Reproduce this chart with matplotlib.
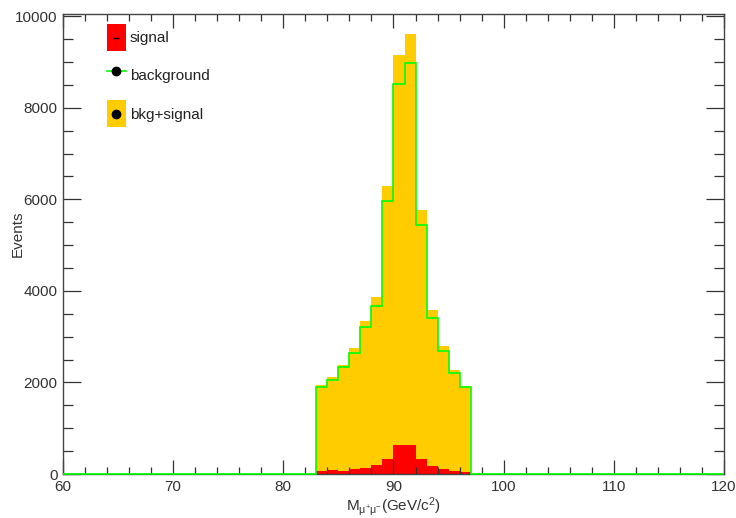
import numpy as np
import matplotlib
matplotlib.use('Agg')
import matplotlib.pyplot as plt
from matplotlib.patches import Patch
from matplotlib.lines import Line2D
from matplotlib.legend_handler import HandlerTuple, HandlerBase
from matplotlib.ticker import MultipleLocator

plt.rcParams['font.family'] = ['Liberation Sans', 'DejaVu Sans']
plt.rcParams['mathtext.fontset'] = 'custom'
plt.rcParams['mathtext.rm'] = 'Liberation Sans'
plt.rcParams['mathtext.it'] = 'Liberation Sans:italic'

# ---- data (1 GeV bins from 83 to 97) ----
bin_low = 83
bin_high = 97
background = [1890, 2050, 2330, 2640, 3210, 3670, 5960, 8530, 8990, 5450, 3410, 2680, 2210, 1890]
signal = [58, 80, 58, 109, 131, 204, 328, 627, 627, 328, 168, 109, 58, 36]
x_min, x_max = 60, 120
y_max = 10050

edges = np.arange(bin_low, bin_high + 1)
bkg = np.array(background, dtype=float)
sig = np.array(signal, dtype=float)
total = bkg + sig

# background histogram over the full axis range (empty bins outside the filled region)
full_edges = np.arange(x_min, x_max + 1)
bkg_full = np.zeros(len(full_edges) - 1)
bkg_full[bin_low - x_min: bin_high - x_min] = bkg

fig = plt.figure(figsize=(7.36, 5.18), dpi=100)
ax = fig.add_axes([63/736, (518-474)/518, (724-63)/736, (474-14)/518])

ax.stairs(total, edges, fill=True, color='#ffcc00', zorder=1)
ax.stairs(sig, edges, fill=True, color='#ff0000', zorder=1.5)
ax.stairs(bkg_full, full_edges, fill=False, color='#00ff00', linewidth=1.2,
          zorder=3, clip_on=False)

ax.set_xlim(x_min, x_max)
ax.set_ylim(0, y_max)

ax.xaxis.set_major_locator(MultipleLocator(10))
ax.xaxis.set_minor_locator(MultipleLocator(2))
ax.yaxis.set_major_locator(MultipleLocator(2000))
ax.yaxis.set_minor_locator(MultipleLocator(500))

ax.tick_params(which='both', direction='in', top=True, right=True,
               colors='#333333', labelcolor='#333333', labelsize=11, width=0.9)
ax.tick_params(axis='x', which='major', length=10, pad=4)
ax.tick_params(axis='x', which='minor', length=5)
ax.tick_params(axis='y', which='major', length=13, pad=4)
ax.tick_params(axis='y', which='minor', length=7)

for s in ax.spines.values():
    s.set_color('#444444')
    s.set_linewidth(1.0)

ax.set_ylabel('Events', fontsize=11, color='#333333')
ax.yaxis.set_label_coords(-0.0575, 0.522)
ax.set_xlabel(r'$\mathregular{M_{\mu^{+}\mu^{-}}(GeV/c^{2})}$', fontsize=11, color='#333333')
ax.xaxis.set_label_coords(0.5, -0.046)


class CenteredMarker(HandlerBase):
    """Draw a single marker centred in the legend handle box."""
    def create_artists(self, legend, orig_handle, xdescent, ydescent,
                       width, height, fontsize, trans):
        m = Line2D([width / 2 - xdescent], [height / 2 - ydescent],
                   marker=orig_handle.get_marker(), ls='none',
                   color=orig_handle.get_color(),
                   markersize=orig_handle.get_markersize(),
                   markeredgewidth=orig_handle.get_markeredgewidth())
        m.set_transform(trans)
        return [m]


dash = Line2D([], [], marker='_', color='black', ls='none', markersize=4, markeredgewidth=1)
dot = Line2D([], [], marker='o', color='black', ls='none', markersize=6)
h_sig = (Patch(facecolor='#ff0000', edgecolor='none'), dash)
h_bkg = Line2D([], [], color='#00ff00', lw=1.2, marker='o', markersize=6,
               markerfacecolor='black', markeredgecolor='black')
h_tot = (Patch(facecolor='#ffcc00', edgecolor='none'), dot)
ax.legend([h_sig, h_bkg, h_tot], ['signal', 'background', 'bkg+signal'],
          handler_map={tuple: HandlerTuple(ndivide=1, pad=0),
                       dash: CenteredMarker(), dot: CenteredMarker()},
          loc='upper left', bbox_to_anchor=(0.0666, 0.978), frameon=False,
          borderpad=0, borderaxespad=0, fontsize=11, handlelength=1.24,
          handleheight=2.34, labelspacing=0.73, handletextpad=0.26,
          labelcolor='#222222')

fig.savefig('out.png', dpi=100)
